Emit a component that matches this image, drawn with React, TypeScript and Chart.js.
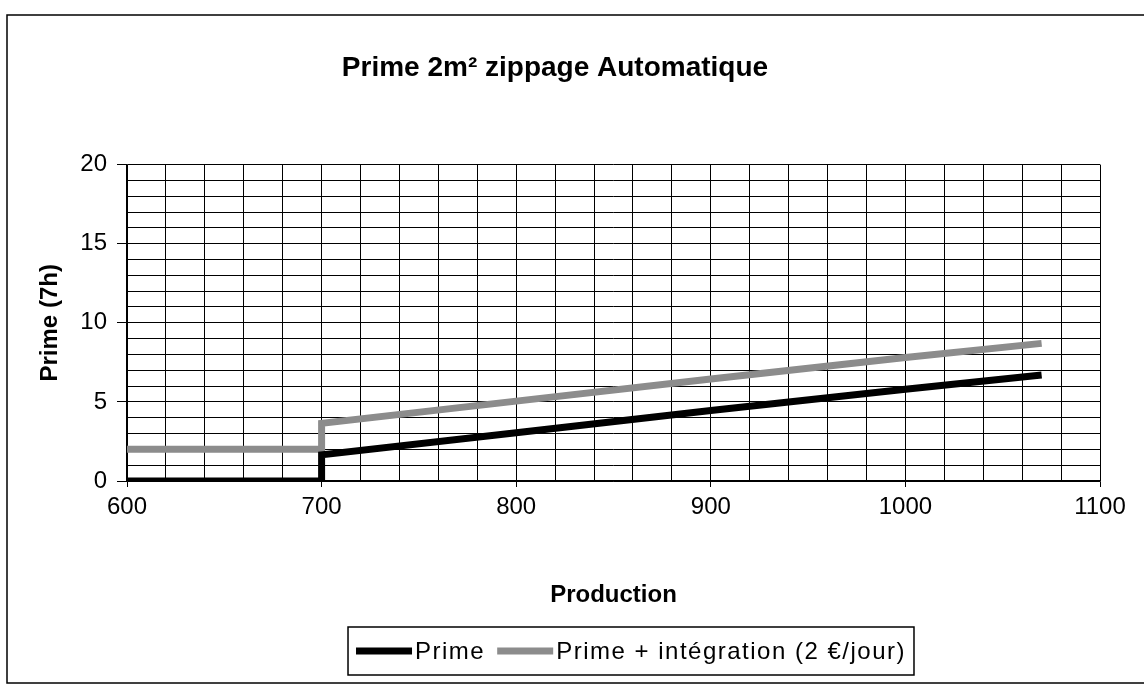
import React, { useEffect, useRef } from "react";
import { Chart, registerables } from "chart.js";

Chart.register(...registerables);

const chartTitle = "Prime 2m² zippage Automatique";
const xTitle = "Production";
const yTitle = "Prime (7h)";
const seriesLabels = ["Prime", "Prime + intégration (2 €/jour)"];
const production = [600, 700, 700, 800, 900, 1000, 1070];
const primeValues = [0, 0, 1.65, 3.05, 4.45, 5.8, 6.7];
const integrationValues = [2, 2, 3.65, 5.05, 6.45, 7.8, 8.7];
const seriesColors = ["#000000", "#8c8c8c"];

const FONT = "'Liberation Sans', Arial, sans-serif";

const framePlugin = {
  id: "frame",
  beforeDraw(chart: any) {
    const ctx = chart.ctx;
    ctx.save();
    ctx.fillStyle = "#ffffff";
    ctx.fillRect(0, 0, chart.width, chart.height);
    ctx.strokeStyle = "#000";
    ctx.lineWidth = 1.5;
    ctx.strokeRect(7, 15, 1145, 668);
    ctx.restore();
  },
};

const legendPlugin = {
  id: "boxLegend",
  afterDraw(chart: any) {
    const ctx = chart.ctx;
    ctx.save();
    ctx.font = `24px ${FONT}`;
    (ctx as any).letterSpacing = "1.5px";
    ctx.textBaseline = "middle";
    const sample = 56;
    const gapAfterSample = 3;
    const gapBetween = 12;
    const items = chart.data.datasets.map((d: any) => ({
      label: d.label,
      color: d.borderColor,
      w: ctx.measureText(d.label).width,
    }));
    let total = 0;
    items.forEach((it: any, i: number) => {
      total += sample + gapAfterSample + it.w + (i < items.length - 1 ? gapBetween : 0);
    });
    const cx = 631;
    const cy = 651;
    const padX = 8;
    const left = cx - total / 2;
    ctx.strokeStyle = "#000";
    ctx.lineWidth = 1.5;
    ctx.strokeRect(left - padX, cy - 24, total + padX * 2, 48);
    let x = left;
    items.forEach((it: any) => {
      ctx.strokeStyle = it.color;
      ctx.lineWidth = 7;
      ctx.beginPath();
      ctx.moveTo(x, cy);
      ctx.lineTo(x + sample, cy);
      ctx.stroke();
      x += sample + gapAfterSample;
      ctx.fillStyle = "#000";
      ctx.fillText(it.label, x, cy + 1);
      x += it.w + gapBetween;
    });
    ctx.restore();
  },
};

export default function App() {
  const ref = useRef<HTMLCanvasElement>(null);
  useEffect(() => {
    if (!ref.current) return;
    const toPts = (ys: number[]) => production.map((x, i) => ({ x, y: ys[i] }));
    const chart = new Chart(ref.current, {
      type: "line",
      data: {
        datasets: [
          {
            label: seriesLabels[0],
            data: toPts(primeValues),
            borderColor: seriesColors[0],
            backgroundColor: seriesColors[0],
            borderWidth: 7,
            pointRadius: 0,
            tension: 0,
          },
          {
            label: seriesLabels[1],
            data: toPts(integrationValues),
            borderColor: seriesColors[1],
            backgroundColor: seriesColors[1],
            borderWidth: 7,
            pointRadius: 0,
            tension: 0,
          },
        ],
      },
      options: {
        animation: false,
        responsive: true,
        maintainAspectRatio: false,
        layout: { padding: { left: 10, right: 44, top: 0, bottom: 69 } },
        plugins: {
          legend: { display: false },
          tooltip: { enabled: false },
          title: {
            display: true,
            text: chartTitle,
            color: "#000",
            font: { family: FONT, size: 28, weight: "bold" },
            padding: { top: 51, bottom: 80 },
          },
        },
        scales: {
          x: {
            type: "linear",
            min: 600,
            max: 1100,
            afterFit: (s: any) => {
              s.height = 139;
            },
            border: { display: true, color: "#000", width: 1.5 },
            grid: {
              color: "#000",
              lineWidth: 1,
              tickLength: 6,
              tickColor: (c: any) =>
                c.tick && c.tick.value % 100 === 0 ? "#000" : "rgba(0,0,0,0)",
            },
            ticks: {
              stepSize: 20,
              autoSkip: false,
              maxRotation: 0,
              maxTicksLimit: 100,
              padding: 6,
              color: "#000",
              font: { family: FONT, size: 24 },
              callback: (v: any) => (Number(v) % 100 === 0 ? String(v) : ""),
            },
            title: {
              display: true,
              text: xTitle,
              color: "#000",
              font: { family: FONT, size: 24, weight: "bold" },
              padding: { top: 0, bottom: 10 },
            },
          },
          y: {
            type: "linear",
            min: 0,
            max: 20,
            afterFit: (s: any) => {
              s.width = 117;
            },
            border: { display: true, color: "#000", width: 1.5 },
            grid: {
              color: "#000",
              lineWidth: 1,
              tickLength: 10,
              tickColor: (c: any) =>
                c.tick && c.tick.value % 5 === 0 ? "#000" : "rgba(0,0,0,0)",
            },
            ticks: {
              stepSize: 1,
              autoSkip: false,
              padding: 10,
              color: "#000",
              font: { family: FONT, size: 24 },
              callback: (v: any) => (Number(v) % 5 === 0 ? String(v) : ""),
            },
            title: {
              display: true,
              text: yTitle,
              color: "#000",
              font: { family: FONT, size: 24, weight: "bold" },
              padding: { top: 26, bottom: 0 },
            },
          },
        },
      },
      plugins: [framePlugin, legendPlugin],
    });
    return () => chart.destroy();
  }, []);
  return (
    <div style={{ position: "fixed", left: 0, top: 0, width: 1144, height: 689 }}>
      <canvas ref={ref} />
    </div>
  );
}
